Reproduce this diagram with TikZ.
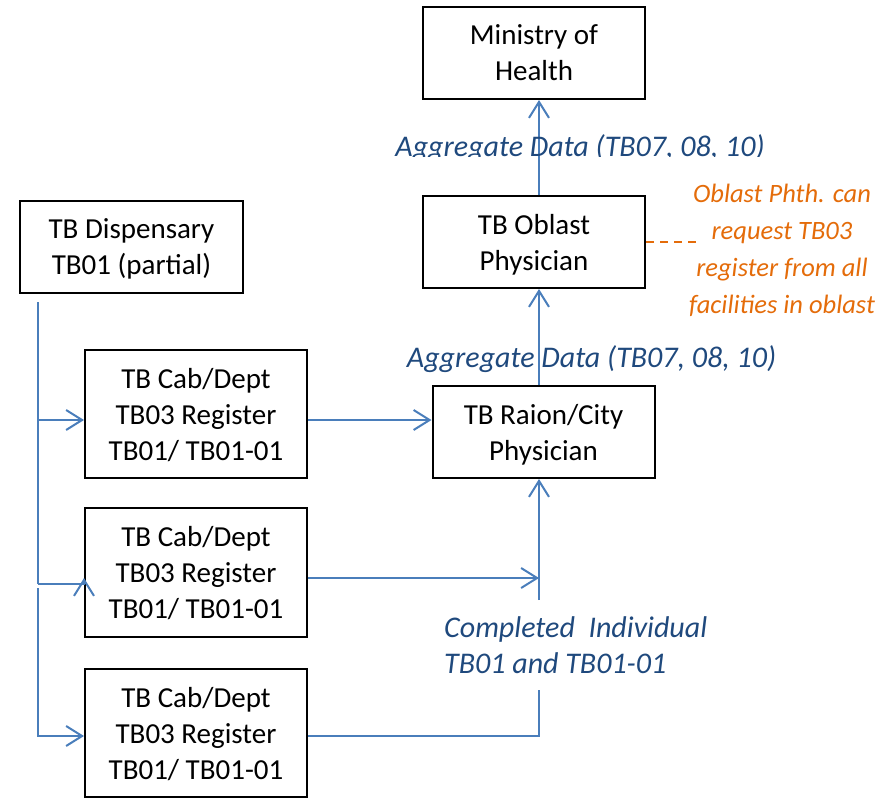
\documentclass[tikz,border=0pt]{standalone}
\usepackage{fontspec}
\setmainfont{Carlito}
\usetikzlibrary{arrows.meta,calc}
\definecolor{FlowBlue}{RGB}{74,126,187}
\definecolor{LabelBlue}{RGB}{31,73,125}
\definecolor{NoteOrange}{RGB}{228,108,10}
\tikzset{
  box/.style={draw,line width=2pt,inner sep=0pt,align=center,text depth=0pt,
    minimum width=222pt,font=\fontsize{29}{36}\selectfont},
  flow/.style={FlowBlue,line width=2pt},
  flowlabel/.style={LabelBlue,inner sep=0pt,font=\fontsize{30}{36}\selectfont\itshape},
}

\begin{document}
\begin{tikzpicture}[x=1pt,y=-1pt,>={Straight Barb[length=16pt,width=20pt]}]
  \useasboundingbox (0,0) rectangle (893,798);
  \clip (0,0) rectangle (893,798);
  % boxes
  \node[box,minimum height=92pt] (moh) at (534,53) {Ministry of\\Health};
  \node[box,minimum height=92pt] (oblast) at (534,242) {TB Oblast\\Physician};
  \node[box,minimum height=92pt] (raion) at (543.5,432) {TB Raion/City\\Physician};
  \node[box,minimum width=223pt,minimum height=92pt] (disp) at (131.5,247) {TB Dispensary\\TB01 (partial)};
  \node[box,minimum height=128pt] (cab1) at (196,414) {TB Cab/Dept\\TB03 Register\\TB01/ TB01-01};
  \node[box,minimum height=129pt] (cab2) at (196,572.5) {TB Cab/Dept\\TB03 Register\\TB01/ TB01-01};
  \node[box,minimum height=128pt] (cab3) at (196,733) {TB Cab/Dept\\TB03 Register\\TB01/ TB01-01};
  % helper coordinates
  \coordinate (spine) at (539,0);
  \coordinate (trunk) at (38,0);
  \coordinate (row1) at (0,420);
  \coordinate (row2) at (0,578);
  \coordinate (row2b) at (0,584);
  \coordinate (row3) at (0,736);
  \coordinate (join) at (539,600);
  \coordinate (tail) at (539,690);
  % upward flow
  \draw[flow,->] (oblast.north -| spine) -- (moh.south -| spine);
  \draw[flow,->] (raion.north -| spine) -- (oblast.south -| spine);
  \draw[flow,->] (join) -- (raion.south -| join);
  \draw[flow,->] (cab1.east |- row1) -- (raion.west |- row1);
  \draw[flow,->] (cab2.east |- row2) -- (join |- row2);
  \draw[flow] (cab3.east |- row3) -| (tail);
  % dispensary to cabinets
  \draw[flow] ($(disp.south -| trunk)+(0,8)$) -- (trunk |- row2b);
  \draw[flow,->] (trunk |- row1) -- (cab1.west |- row1);
  \draw[flow,->] (trunk |- row2b) -| ($(cab2.west |- row2b)+(0,-6)$);
  \draw[flow,->] ($(trunk |- row2b)+(0,4)$) |- (cab3.west |- row3);
  % labels
  \begin{scope}
    \clip (380,120) rectangle (800,156.5);
    \node[flowlabel,anchor=base] (agg1) at (580,156) {Aggregate Data (TB07, 08, 10)};
  \end{scope}
  \node[flowlabel,anchor=base] (agg2) at (591.5,367) {Aggregate Data (TB07, 08, 10)};
  \node[flowlabel,anchor=base west,align=left] (done) at (444,673) {Completed\ \ Individual\\TB01 and TB01-01};
  \node[NoteOrange,inner sep=0pt,font=\fontsize{26.5}{37}\selectfont\itshape,align=center,anchor=base] (note) at (782,313)
    {Oblast Phth. can\\request TB03\\register from all\\facilities in oblast};
  \draw[NoteOrange,line width=2pt,dash pattern=on 8pt off 6pt] (oblast.east) -- ++(50,0);
\end{tikzpicture}
\end{document}
